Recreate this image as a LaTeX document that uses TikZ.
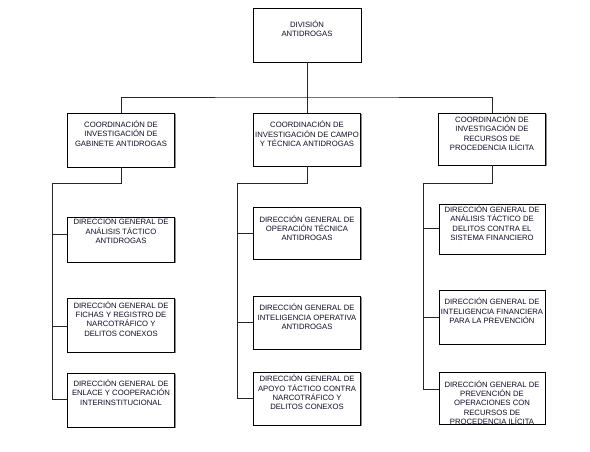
\documentclass[tikz,border=0pt]{standalone}
\usepackage{fontspec}
\setmainfont{Liberation Sans}
\usetikzlibrary{positioning,shadows}
\definecolor{txtnavy}{RGB}{15,15,40}
\newcommand{\capstrut}{\rule{0pt}{8pt}}

\begin{document}
\begin{tikzpicture}[x=1pt,y=-1pt,
    unit/.style={draw=black,line width=0.8pt,fill=white,minimum width=107pt,inner sep=0pt,
      drop shadow={shadow xshift=1pt,shadow yshift=-1pt,opacity=1,fill=black!45}},
    caption/.style={inner sep=0pt,outer sep=0pt,align=center,text=txtnavy,
      font=\fontsize{7.7}{9.4}\selectfont},
    link/.style={draw=black!85,line width=0.8pt}]
  \useasboundingbox (0,0) rectangle (590,452);

  \node[unit,minimum width=108pt,minimum height=54pt] (div) at (307,35) {};
  \node[caption,below=11.75pt of div.north] (divt) {\capstrut DIVISIÓN\\ANTIDROGAS};

  \node[unit,minimum height=54pt] (c1) at (121,140) {};
  \node[caption,below=6.75pt of c1.north] (c1t) {\capstrut COORDINACIÓN DE\\INVESTIGACIÓN DE\\GABINETE ANTIDROGAS};
  \node[unit,minimum height=53pt] (c2) at (307,139.5) {};
  \node[caption,below=7.15pt of c2.north] (c2t) {\capstrut COORDINACIÓN DE\\INVESTIGACIÓN DE CAMPO\\Y TÉCNICA ANTIDROGAS};
  \node[unit,minimum height=52pt] (c3) at (492,139) {};
  \node[caption,below=1.75pt of c3.north] (c3t) {\capstrut COORDINACIÓN DE\\INVESTIGACIÓN DE\\RECURSOS DE\\PROCEDENCIA ILÍCITA};

  \node[unit,minimum height=45pt] (L1) at (121,239.5) {};
  \node[caption,below=0pt of L1.north] (L1t) {\capstrut DIRECCIÓN GENERAL DE\\ANÁLISIS TÁCTICO\\ANTIDROGAS};
  \node[unit,minimum height=54pt] (L2) at (121,325) {};
  \node[caption,below=2.45pt of L2.north] (L2t) {\capstrut DIRECCIÓN GENERAL DE\\FICHAS Y REGISTRO DE\\NARCOTRÁFICO Y\\DELITOS CONEXOS};
  \node[unit,minimum height=54pt] (L3) at (121,400) {};
  \node[caption,below=5.75pt of L3.north] (L3t) {\capstrut DIRECCIÓN GENERAL DE\\ENLACE Y COOPERACIÓN\\INTERINSTITUCIONAL};

  \node[unit,minimum height=52pt] (M1) at (307,233) {};
  \node[caption,below=7.45pt of M1.north] (M1t) {\capstrut DIRECCIÓN GENERAL DE\\OPERACIÓN TÉCNICA\\ANTIDROGAS};
  \node[unit,minimum height=53pt] (M2) at (307,322.5) {};
  \node[caption,below=7pt of M2.north] (M2t) {\capstrut DIRECCIÓN GENERAL DE\\INTELIGENCIA OPERATIVA\\ANTIDROGAS};
  \node[unit,minimum height=53pt] (M3) at (307,398.5) {};
  \node[caption,below=2pt of M3.north] (M3t) {\capstrut DIRECCIÓN GENERAL DE\\APOYO TÁCTICO CONTRA\\NARCOTRÁFICO Y\\DELITOS CONEXOS};

  \node[unit,minimum width=106pt,minimum height=50pt] (R1) at (492,229) {};
  \node[caption,below=0.75pt of R1.north] (R1t) {\capstrut DIRECCIÓN GENERAL DE\\ANÁLISIS TÁCTICO DE\\DELITOS CONTRA EL\\SISTEMA FINANCIERO};
  \node[unit,minimum width=106pt,minimum height=54pt] (R2) at (492,317) {};
  \node[caption,below=7pt of R2.north] (R2t) {\capstrut DIRECCIÓN GENERAL DE\\INTELIGENCIA FINANCIERA\\PARA LA PREVENCIÓN};
  \node[unit,minimum width=106pt,minimum height=52pt] (R3) at (492,398) {};
  \begin{scope}
    \clip (R3.north west) rectangle (R3.south east);
    \node[caption,below=7.45pt of R3.north] (R3t) {\capstrut DIRECCIÓN GENERAL DE\\PREVENCIÓN DE\\OPERACIONES CON\\RECURSOS DE\\PROCEDENCIA ILÍCITA};
  \end{scope}

  \coordinate (hb) at (307,97);
  \coordinate (lb) at (52,183);
  \coordinate (mb) at (237,183);
  \coordinate (rb) at (423,183);

  \draw[link] (div.south) -- (hb);
  \draw[link] (c1.north) |- (hb) -| (c3.north);
  \draw[link] (hb) -- (c2.north);

  \draw[link] (c1.south) |- (lb);
  \draw[link] (lb) |- ([yshift=5.5pt]L1.west);
  \draw[link] (lb) |- ([yshift=-1pt]L2.west);
  \draw[link] (lb) |- ([yshift=1pt]L3.west);

  \draw[link] (c2.south) |- (mb);
  \draw[link] (mb) |- (M1.west);
  \draw[link] (mb) |- (M2.west);
  \draw[link] (mb) |- (M3.west);

  \draw[link] (c3.south) |- (rb);
  \draw[link] (rb) |- ([yshift=1pt]R1.west);
  \draw[link] (rb) |- (R2.west);
  \draw[link] (rb) |- ([yshift=9pt]R3.west);
\end{tikzpicture}
\end{document}
